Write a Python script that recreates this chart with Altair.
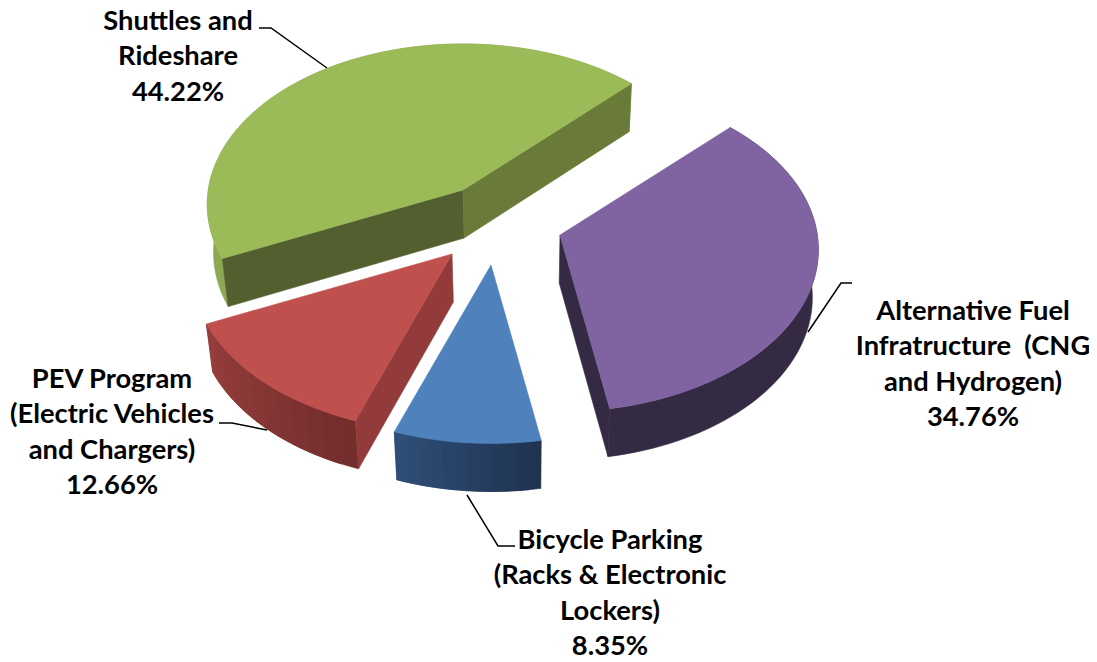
import math
import altair as alt
import pandas as pd

# ---- values ----
categories = ["Alternative Fuel", "Bicycle Parking", "PEV Program", "Shuttles and Rideshare"]
shares = [34.76, 8.35, 12.66, 44.22]
label_lines = [
    ["Alternative Fuel", "Infratructure \u00a0(CNG", "and Hydrogen)", "34.76%"],
    ["Bicycle Parking", "(Racks & Electronic", "Lockers)", "8.35%"],
    ["PEV Program", "(Electric Vehicles", "and Chargers)", "12.66%"],
    ["Shuttles and", "Rideshare", "44.22%"],
]

# ---- styling / view geometry ----
top_colors = ["#8064A2", "#4F81BD", "#C0504D", "#9BBB59"]
outer_from = ["#352A43", "#2F4F79", "#953E3C", "#8CA952"]
outer_to = ["#352A43", "#1F324F", "#722D2C", "#8CA952"]
start_wall = [None, None, "#933B3A", "#535F2F"]
end_wall = ["#352A43", None, None, "#6A7B39"]
apexes = [(560, 235), (491, 265), (452, 254), (463, 190)]
radius_scale = [1.005, 1.015, 1.015, 0.995]
label_xy = [(973, 312), (610, 541), (112, 380), (178, 22)]
LINE_H = 35.3
leaders = [
    [(852, 283), (841, 283), (808, 332)],
    [(467, 495), (498, 546), (515, 546)],
    [(219, 423), (232, 423), (267, 430)],
    [(259, 28), (271, 28), (327, 68)],
]
START_DEG = 44.7
RX, RY, PERSP, DEPTH = 256, 160, 0.09, 48
SHRINK, SHRINK_X = 0.98, 520


def top_pt(apex, deg, rs):
    t = math.radians(deg)
    x, z = math.sin(t), math.cos(t)
    s = rs / (1 + PERSP * z)
    return apex[0] + RX * x * s, apex[1] - RY * z * s


def low(p):
    return SHRINK_X + (p[0] - SHRINK_X) * SHRINK, p[1] + DEPTH


def mix(c1, c2, f):
    a = [int(c1[i:i + 2], 16) for i in (1, 3, 5)]
    b = [int(c2[i:i + 2], 16) for i in (1, 3, 5)]
    return "#" + "".join(f"{round(u + (v - u) * f):02x}" for u, v in zip(a, b))


rows = []
pid = 0


def add_poly(pts, color):
    global pid
    pts = list(pts) + [pts[0]]
    for i, (x, y) in enumerate(pts):
        rows.append({"pid": f"p{pid:04d}", "i": i, "x": x, "y": y, "c": color})
    pid += 1


# slice angles come from the shares, clockwise from the first slice's edge
total = sum(shares)
a0 = START_DEG
spans = []
for s in shares:
    a1 = a0 + s / total * 360
    spans.append((a0, a1))
    a0 = a1

for k in [3, 0, 2, 1]:
    d0, d1 = spans[k]
    apex = apexes[k]
    rs = radius_scale[k]
    gradient = outer_from[k] != outer_to[k]
    n = 12 if gradient else 1
    m = 8  # points along each wall strip
    for j in range(n):
        u0 = d0 + (d1 - d0) * j / n
        # each strip runs on under the next one, so no seam can show
        u1 = d0 + (d1 - d0) * min(j + 2, n) / n
        edge = [top_pt(apex, u0 + (u1 - u0) * q / (m * (1 if gradient else 8)), rs)
                for q in range(m * (1 if gradient else 8) + 1)]
        add_poly(edge + [low(p) for p in reversed(edge)], mix(outer_to[k], outer_from[k], (j + 0.5) / n))
    if start_wall[k]:
        p = top_pt(apex, d0, rs)
        add_poly([apex, p, low(p), low(apex)], start_wall[k])
    if end_wall[k]:
        p = top_pt(apex, d1, rs)
        add_poly([apex, p, low(p), low(apex)], end_wall[k])
    arc = [top_pt(apex, d0 + (d1 - d0) * j / 90, rs) for j in range(91)]
    add_poly([apex] + arc, top_colors[k])

poly = pd.DataFrame(rows)

lead_rows = []
for k, pts in enumerate(leaders):
    for i, (x, y) in enumerate(pts):
        lead_rows.append({"k": k, "i": i, "x": x, "y": y})
lead = pd.DataFrame(lead_rows)

text_rows = []
for k, lines in enumerate(label_lines):
    for i, t in enumerate(lines):
        text_rows.append({"x": label_xy[k][0], "y": label_xy[k][1] + i * LINE_H, "t": t})
labels = pd.DataFrame(text_rows)

W, H = 1081, 654
xs = alt.Scale(domain=[8, 8 + W], nice=False, zero=False)
ys = alt.Scale(domain=[8 + H, 8], nice=False, zero=False)
X = alt.X("x:Q", scale=xs, axis=None)
Y = alt.Y("y:Q", scale=ys, axis=None)

pie = alt.Chart(poly).mark_line(strokeWidth=0.6, opacity=1, fillOpacity=1, strokeOpacity=1).encode(
    x=X, y=Y, order="i:Q", detail="pid:N",
    fill=alt.Fill("c:N", scale=None), stroke=alt.Stroke("c:N", scale=None),
)
leader = alt.Chart(lead).mark_line(color="#000000", strokeWidth=1.5).encode(
    x=X, y=Y, order="i:Q", detail="k:N",
)
text = alt.Chart(labels).mark_text(
    font="Lato", fontWeight="bold", fontSize=27.3, color="#000000", align="center", baseline="middle",
).encode(x=X, y=Y, text="t:N")

chart = (pie + leader + text).properties(
    width=W, height=H, padding=0, autosize=alt.AutoSizeParams(type="none"),
).configure_view(stroke=None)

chart.save("out.html", embed_options={"renderer": "svg", "actions": False})
